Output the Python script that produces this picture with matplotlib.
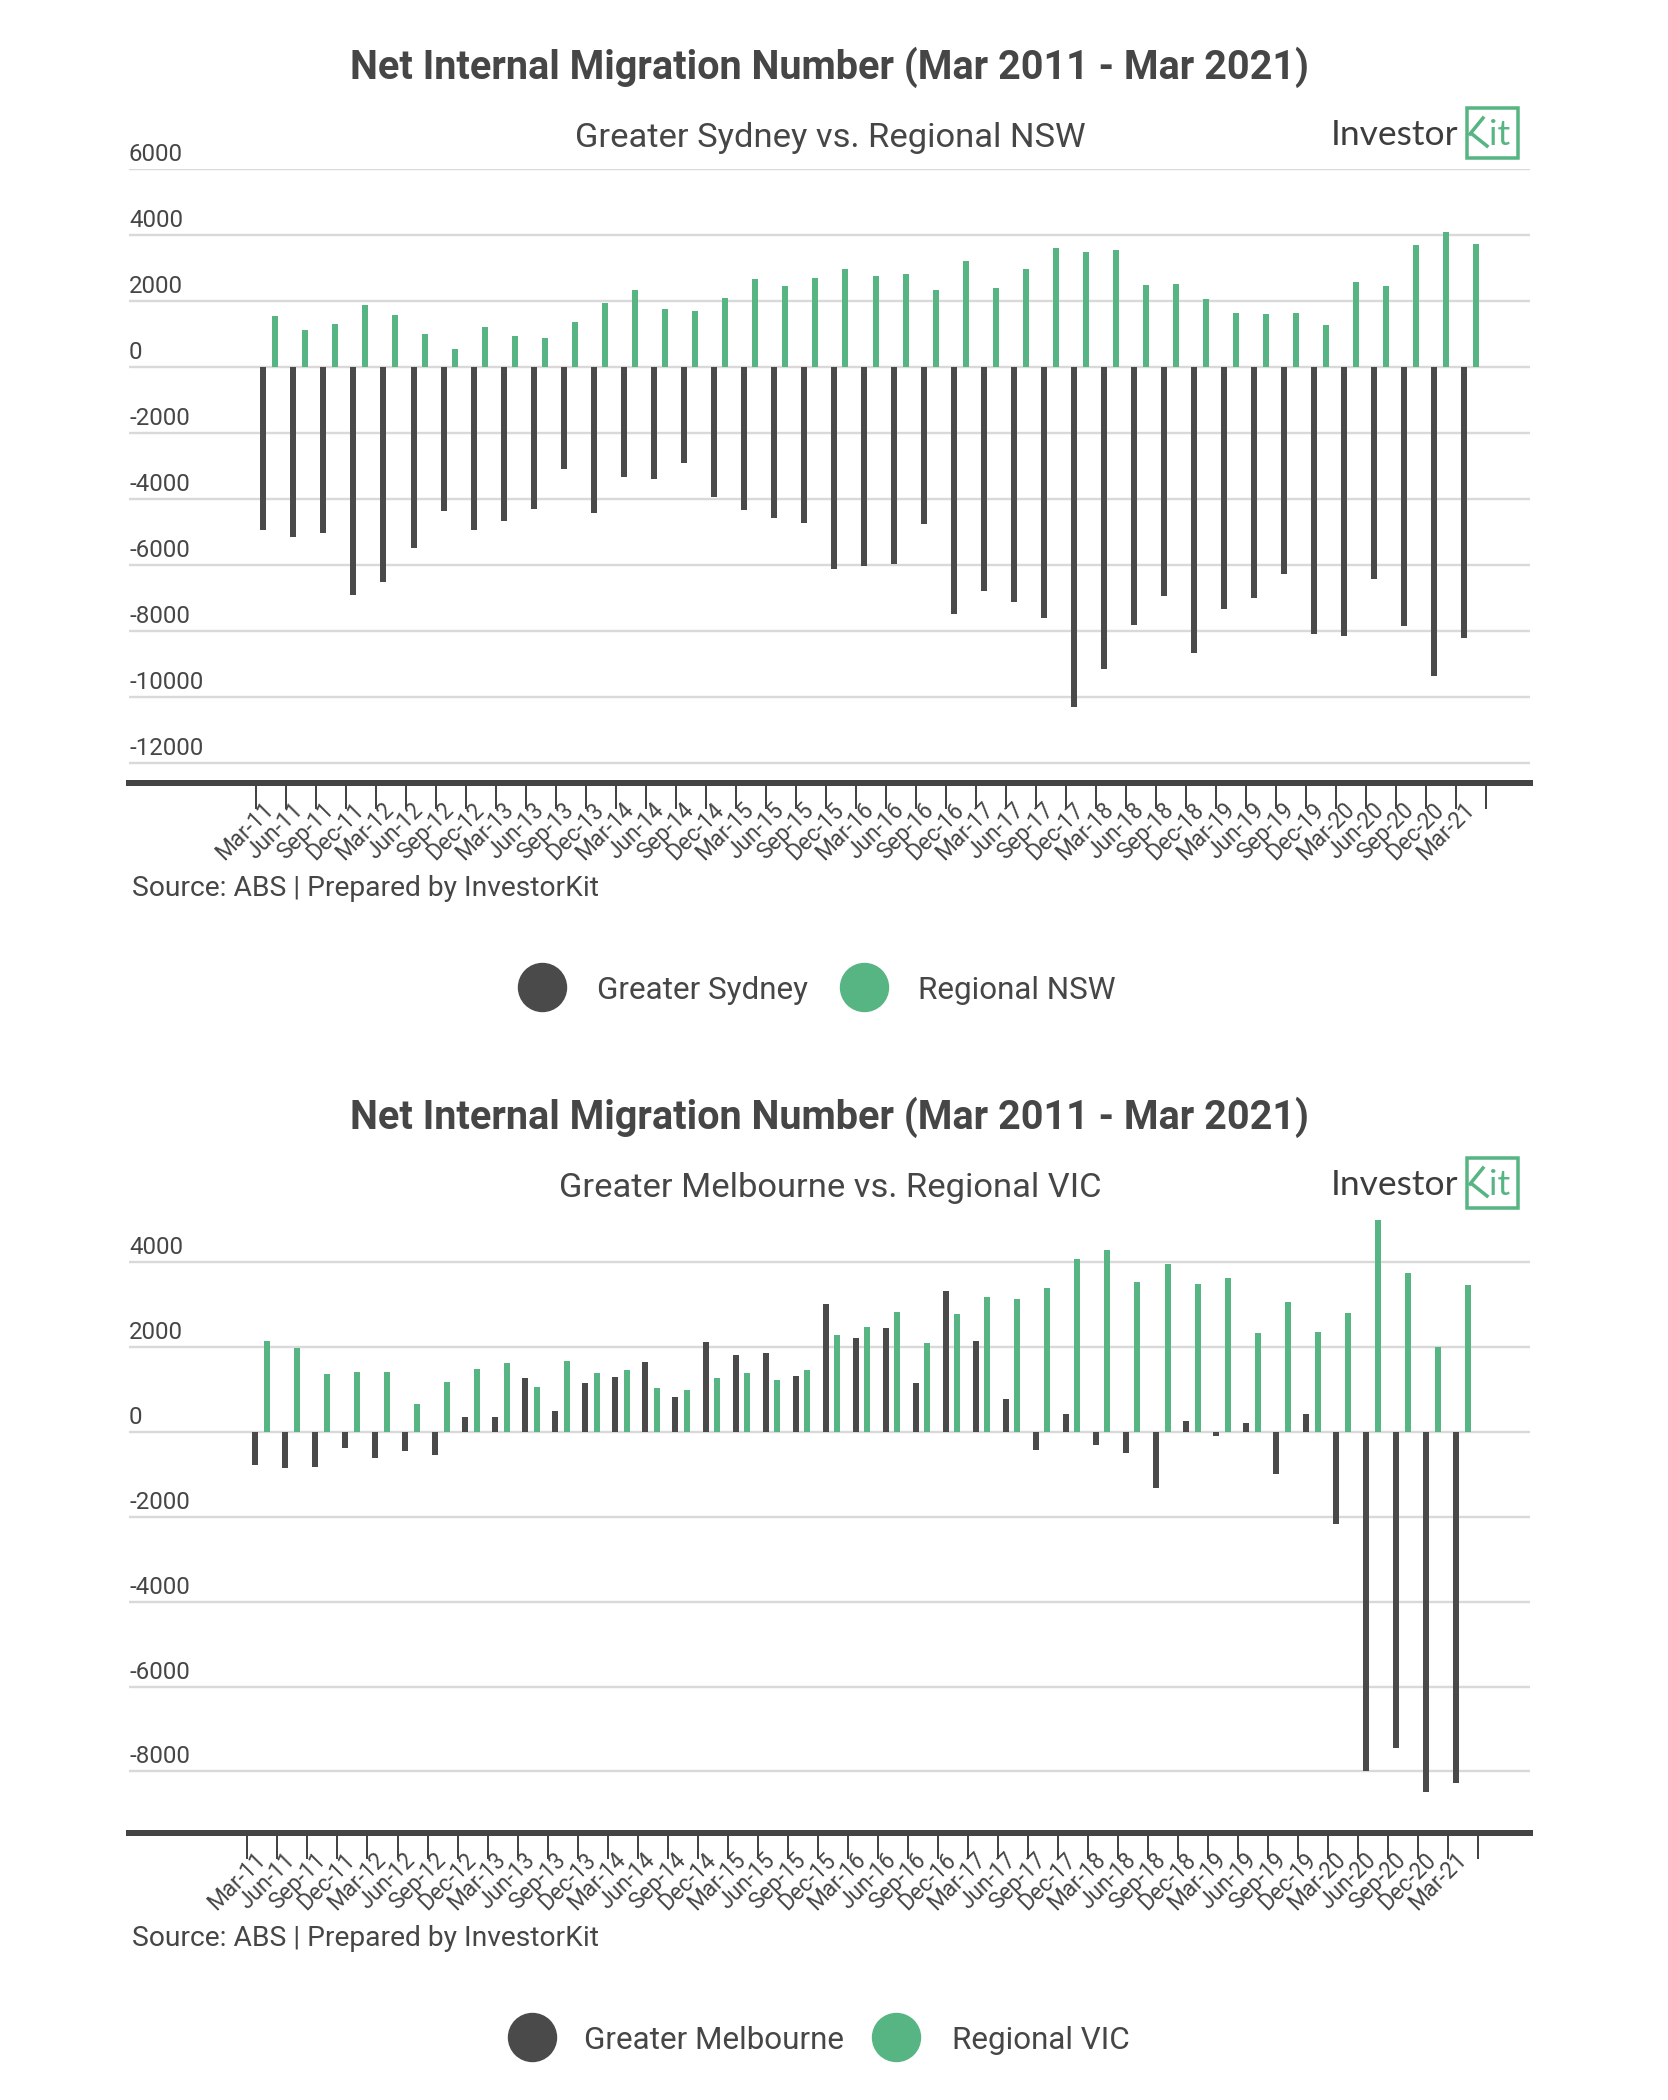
import matplotlib
matplotlib.use("Agg")
import matplotlib.pyplot as plt
import matplotlib.transforms as mtransforms
from matplotlib.lines import Line2D
from matplotlib.patches import Rectangle
import numpy as np

# ---------------- data ----------------
categories = ["Mar-11", "Jun-11", "Sep-11", "Dec-11", "Mar-12", "Jun-12", "Sep-12", "Dec-12",
              "Mar-13", "Jun-13", "Sep-13", "Dec-13", "Mar-14", "Jun-14", "Sep-14", "Dec-14",
              "Mar-15", "Jun-15", "Sep-15", "Dec-15", "Mar-16", "Jun-16", "Sep-16", "Dec-16",
              "Mar-17", "Jun-17", "Sep-17", "Dec-17", "Mar-18", "Jun-18", "Sep-18", "Dec-18",
              "Mar-19", "Jun-19", "Sep-19", "Dec-19", "Mar-20", "Jun-20", "Sep-20", "Dec-20",
              "Mar-21"]

greater_sydney = [-4921, -5133, -5012, -6891, -6515, -5485, -4355, -4921, -4658, -4294,
                  -3091, -4406, -3315, -3376, -2891, -3921, -4333, -4567, -4727, -6103,
                  -6021, -5952, -4739, -7476, -6788, -7103, -7606, -10285, -9133, -7809,
                  -6939, -8658, -7324, -6982, -6255, -8073, -8133, -6424, -7830, -9364,
                  -8212]
regional_nsw = [1555, 1130, 1312, 1888, 1575, 1009, 564, 1211, 939, 878,
                1373, 1939, 2342, 1757, 1706, 2100, 2666, 2464, 2716, 2969,
                2757, 2818, 2342, 3221, 2403, 2969, 3615, 3494, 3555, 2504,
                2524, 2070, 1636, 1615, 1645, 1292, 2585, 2464, 3716, 4090,
                3747]

greater_melbourne = [-769, -856, -823, -385, -620, -456, -549, 360, 360, 1262,
                     486, 1160, 1301, 1654, 831, 2117, 1811, 1865, 1317, 3018,
                     2211, 2453, 1152, 3323, 2147, 783, -432, 430, -306, -495,
                     -1326, 266, -87, 203, -988, 415, -2173, -7990, -7441, -8491,
                     -8272]
regional_vic = [2140, 1967, 1371, 1402, 1418, 666, 1183, 1482, 1630, 1065,
                1670, 1388, 1458, 1042, 988, 1277, 1395, 1230, 1449, 2272,
                2477, 2813, 2100, 2775, 3182, 3119, 3394, 4083, 4288, 3542,
                3958, 3481, 3636, 2335, 3065, 2352, 2799, 4993, 3747, 2006,
                3457]

yticks_nsw = [-12000, -10000, -8000, -6000, -4000, -2000, 0, 2000, 4000, 6000]
yticks_vic = [-8000, -6000, -4000, -2000, 0, 2000, 4000]

title_text = "Net Internal Migration Number (Mar 2011 - Mar 2021)"
source_text = "Source: ABS | Prepared by InvestorKit"

# ---------------- style ----------------
W, H, DPI = 1668, 2100, 100
DARK = "#4a4a4a"
GREEN = "#57b583"
TEXT = "#464646"
GRID = "#d9d9d9"
FONT = "Roboto"
PX = 72.0 / DPI  # points per pixel

plt.rcParams["font.family"] = [FONT, "DejaVu Sans"]

fig = plt.figure(figsize=(W / DPI, H / DPI), dpi=DPI)
fig.patch.set_facecolor("white")


def fx(px):
    return px / W


def fy(py):
    return 1 - py / H


def panel(dy, left_tick_px, top_px, bottom_px, ylim, yticks, dark, green,
          subtitle, name_dark, name_green, legend_pos):
    ax = fig.add_axes([fx(129), fy(bottom_px), (1530 - 129) / W, (bottom_px - top_px) / H])
    n = len(categories)
    x = np.arange(n)
    cw = 30.02
    xmin = -0.5 - (left_tick_px - 129) / cw
    xmax = -0.5 + (1530 - left_tick_px) / cw
    ax.bar(x - 0.24, dark, width=0.2, color=DARK, zorder=3, label=name_dark)
    ax.bar(x + 0.15, green, width=0.2, color=GREEN, zorder=3, label=name_green)
    ax.set_xlim(xmin, xmax)
    ax.set_ylim(*ylim)

    # grid & y labels
    ax.set_yticks(yticks)
    ax.yaxis.grid(True, color=GRID, lw=2.4 * PX, zorder=0)
    ax.tick_params(axis="y", length=0, labelleft=False)
    trans = mtransforms.blended_transform_factory(ax.transAxes, ax.transData)
    trans = mtransforms.offset_copy(trans, fig=fig, x=0, y=8 * PX, units="points")
    for v in yticks:
        ax.text(0, v, str(v), transform=trans, ha="left", va="baseline",
                fontsize=17.3, color=TEXT)

    for s in ["top", "left", "right"]:
        ax.spines[s].set_visible(False)
    ax.spines["bottom"].set_color("#444444")
    ax.spines["bottom"].set_linewidth(6 * PX)
    ax.spines["bottom"].set_zorder(4)

    # x ticks: boundaries as tick marks, labels at centers
    ax.set_xticks(x)
    ax.set_xticklabels(categories, rotation=45, ha="right", va="baseline",
                       rotation_mode="anchor", fontsize=16.3, color=TEXT)
    ax.set_xticks(np.arange(n + 1) - 0.5, minor=True)
    ax.tick_params(axis="x", which="major", length=0, pad=20)
    ax.tick_params(axis="x", which="minor", length=26 * PX, width=2 * PX,
                   color="#444444", direction="out")
    shift = mtransforms.ScaledTranslation(4 / DPI, 0, fig.dpi_scale_trans)
    for lab in ax.get_xticklabels():
        lab.set_transform(lab.get_transform() + shift)

    # titles
    fig.text(fx(829), fy(79 + dy), title_text, ha="center", va="baseline",
             fontsize=28.5, fontweight="bold", color=TEXT)
    fig.text(fx(830), fy(146.5 + dy), subtitle, ha="center", va="baseline",
             fontsize=24.8, color=TEXT)

    # logo
    fig.text(fx(1331), fy(145 + dy), "Investor", ha="left", va="baseline",
             fontsize=25.5, color="#3d3d3d", family=["Lato", "DejaVu Sans"])
    fig.add_artist(Rectangle((fx(1467), fy(158 + dy)), (1518 - 1467) / W, 50 / H,
                             transform=fig.transFigure, fill=False,
                             edgecolor=GREEN, lw=3.5 * PX))
    fig.add_artist(Line2D([fx(1470), fx(1483)], [fy(134 + dy), fy(118 + dy)],
                          transform=fig.transFigure, color=GREEN, lw=3.5 * PX))
    fig.add_artist(Line2D([fx(1472), fx(1487)], [fy(134 + dy), fy(146 + dy)],
                          transform=fig.transFigure, color=GREEN, lw=3.5 * PX))
    fig.text(fx(1489), fy(145 + dy), "it", ha="left", va="baseline",
             fontsize=25.5, color=GREEN, family=["Lato", "DejaVu Sans"])

    # source
    fig.text(fx(132), fy(896 + dy), source_text, ha="left", va="baseline",
             fontsize=20.3, color=TEXT)

    # legend
    (c1, t1, c2, t2) = legend_pos
    for cx, tx, col, name in [(c1, t1, DARK, name_dark), (c2, t2, GREEN, name_green)]:
        fig.add_artist(Line2D([fx(cx)], [fy(987 + dy)], marker="o", markersize=48 * PX,
                              color=col, lw=0, transform=fig.transFigure))
        fig.text(fx(tx), fy(999 + dy), name, ha="left", va="baseline",
                 fontsize=22.6, color=TEXT)
    return ax


panel(0, 255.6, 169.3, 783, (-12597, 6000), yticks_nsw, greater_sydney, regional_nsw,
      "Greater Sydney vs. Regional NSW", "Greater Sydney", "Regional NSW",
      (542, 597, 864, 918))
panel(1050, 247.4, 1215.4, 1833, (-9451, 5100), yticks_vic, greater_melbourne, regional_vic,
      "Greater Melbourne vs. Regional VIC", "Greater Melbourne", "Regional VIC",
      (532, 584, 896, 952))

fig.savefig("out.png", dpi=DPI, facecolor="white")
